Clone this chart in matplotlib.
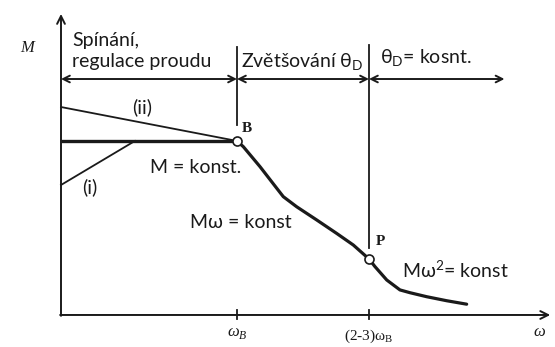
import matplotlib.pyplot as plt

# speed axis in units of omega_B, torque axis in units of the constant torque
omega_B = 1.0
omega_P = 1.75
M_konst = 1.0

# torque curve beyond the base speed (constant power, then M*w^2 = const)
curve_w = [1.0, 1.036, 1.131, 1.226, 1.263, 1.339, 1.453, 1.566, 1.661, 1.75,
           1.784, 1.851, 1.926, 1.983, 2.078, 2.191, 2.305]
curve_M = [1.0, 0.967, 0.852, 0.728, 0.680, 0.622, 0.546, 0.469, 0.402, 0.322,
           0.278, 0.201, 0.144, 0.128, 0.105, 0.082, 0.062]

# start-up variants (i) and (ii)
line_i_w = [0.0, 0.42]
line_i_M = [0.747, 1.0]
line_ii_w = [0.0, 1.0]
line_ii_M = [1.195, 1.0]

region_y = 1.356
x_end, y_end = 2.78, 1.73

fig = plt.figure(figsize=(5.55, 3.47), dpi=100)
ax = fig.add_axes([0, 0, 1, 1])
ax.set_xlim(-0.3466, 2.807)
ax.set_ylim(-0.184, 1.810)
ax.axis('off')

ink = '#1a1a1a'
arrow = dict(arrowstyle='->', color=ink, lw=1.4, mutation_scale=14, shrinkA=0, shrinkB=0)
both = dict(arrowstyle='<->', color=ink, lw=1.4, mutation_scale=12, shrinkA=0, shrinkB=0)

# axes
ax.annotate('', xy=(x_end, 0), xytext=(-0.005, 0), arrowprops=arrow)
ax.annotate('', xy=(0, y_end), xytext=(0, -0.005), arrowprops=arrow)

# region arrows along the top
bounds = [0.0, omega_B, omega_P, 2.52]
for a, b in zip(bounds, bounds[1:]):
    ax.annotate('', xy=(a, region_y), xytext=(b, region_y), arrowprops=both)

# region boundaries
ax.plot([omega_B, omega_B], [1.09, 1.54], color=ink, lw=1.3)
ax.plot([omega_P, omega_P], [0.385, 1.55], color=ink, lw=1.3)

# characteristics
ax.plot([0, omega_B], [M_konst, M_konst], color=ink, lw=2.4, solid_capstyle='butt')
ax.plot(line_ii_w, line_ii_M, color=ink, lw=1.3)
ax.plot(line_i_w, line_i_M, color=ink, lw=1.3)
ax.plot(curve_w, curve_M, color=ink, lw=2.3, solid_capstyle='round', solid_joinstyle='round')
ax.plot([omega_B, omega_P], [M_konst, curve_M[curve_w.index(omega_P)]], 'o',
        ms=6.5, mfc='white', mec=ink, mew=1.2, zorder=5)

# ticks on the speed axis
for w in (omega_B, omega_P):
    ax.plot([w, w], [-0.025, 0.03], color=ink, lw=1.3)

sans = 'Lato'
fs = 14
ax.text(0.0625, 1.58, 'Spínání,', fontsize=fs, family=sans, color=ink, va='center')
ax.text(0.0625, 1.454, 'regulace proudu', fontsize=fs, family=sans, color=ink, va='center')
ax.text(1.023, 1.454, 'Zvětšování θ$_\\mathregular{D}$', fontsize=fs, family=sans, color=ink,
        va='center')
ax.text(1.8125, 1.477, 'θ$_\\mathregular{D}$= kosnt.', fontsize=fs, family=sans, color=ink,
        va='center')
ax.text(0.46, 1.195, '(ii)', fontsize=fs, family=sans, color=ink, ha='center', va='center')
ax.text(0.165, 0.736, '(i)', fontsize=fs, family=sans, color=ink, ha='center', va='center')
ax.text(0.506, 0.845, 'M = konst.', fontsize=fs, family=sans, color=ink, va='center')
ax.text(0.733, 0.529, 'Mω = konst', fontsize=fs, family=sans, color=ink, va='center')
ax.text(1.9375, 0.259, 'Mω$^\\mathregular{2}$= konst', fontsize=fs, family=sans, color=ink,
        va='center')

ax.text(1.03, 1.07, 'B', fontsize=11, family='Liberation Serif', weight='bold', color=ink,
        va='center')
ax.text(1.79, 0.42, 'P', fontsize=11, family='Liberation Serif', weight='bold', color=ink,
        va='center')

ax.text(-0.19, 1.535, 'M', fontsize=12, family='Liberation Serif', style='italic', color=ink,
        ha='center', va='center')
ax.text(2.72, -0.10, 'ω', fontsize=12, family='Liberation Serif', style='italic', color=ink,
        ha='center', va='center')
ax.text(omega_B, -0.105, 'ω$_\\mathregular{B}$', fontsize=12, family='Liberation Serif',
        style='italic', color=ink, ha='center', va='center')
ax.text(omega_P, -0.125, '(2-3)ω$_\\mathregular{B}$', fontsize=11, family='Liberation Serif',
        color=ink, ha='center', va='center')

fig.savefig('out.png', dpi=100, facecolor='white')
